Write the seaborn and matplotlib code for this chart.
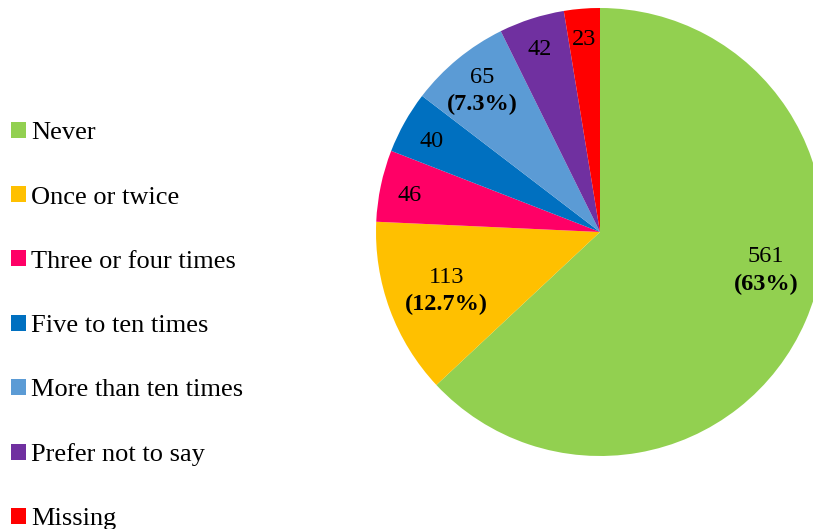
import numpy as np
import matplotlib
matplotlib.use("Agg")
import matplotlib.pyplot as plt
from matplotlib.patches import Patch
import seaborn as sns

categories = ["Never", "Once or twice", "Three or four times", "Five to ten times",
              "More than ten times", "Prefer not to say", "Missing"]
counts = [561, 113, 46, 40, 65, 42, 23]
show_pct = [True, True, False, False, True, False, False]
colors = ["#92D050", "#FFC000", "#FF0066", "#0070C0", "#5B9BD5", "#7030A0", "#FF0000"]


def fmt_pct(v):
	s = f"{v:.1f}"
	if s.endswith(".0"):
		s = s[:-2]
	return f"({s}%)"


def main():
	sns.set_theme(style="white")
	plt.rcParams["font.family"] = ["Liberation Serif", "DejaVu Serif"]
	plt.rcParams["text.color"] = "black"
	palette = sns.color_palette(colors)

	fig = plt.figure(figsize=(8.13, 5.29), dpi=100)
	ax = fig.add_axes([376 / 813, 73 / 529, 448 / 813, 448 / 529])
	wedges, _ = ax.pie(counts, colors=palette, startangle=90, counterclock=False,
	                   radius=1.0, wedgeprops={"linewidth": 0})
	ax.set_xlim(-1, 1)
	ax.set_ylim(-1, 1)
	ax.axis("off")

	# label distance from centre, per slice (Excel "best fit" look)
	label_r = [0.75, 0.73, 0.87, 0.86, 0.83, 0.875, 0.88]
	total = sum(counts)
	fs = 17.5
	for i, (w, n, pct) in enumerate(zip(wedges, counts, show_pct)):
		mid = np.deg2rad((w.theta1 + w.theta2) / 2)
		x, y = label_r[i] * np.cos(mid), label_r[i] * np.sin(mid)
		if i == 0:
			x, y = 0.74, -0.16
		if pct:
			ax.text(x, y + 0.062, str(n), ha="center", va="center_baseline", fontsize=fs)
			ax.text(x, y - 0.062, fmt_pct(100 * n / total), ha="center", va="center_baseline",
			        fontsize=fs, fontweight="bold")
		else:
			ax.text(x, y - 0.008, str(n), ha="center", va="center_baseline", fontsize=fs)

	handles = [Patch(facecolor=c, edgecolor="none") for c in palette]
	fig.legend(handles, categories, loc="upper left", bbox_to_anchor=(11 / 813, 1 - 122 / 529),
	           frameon=False, fontsize=19, handlelength=0.55, handleheight=0.55,
	           handletextpad=0.2, labelspacing=1.59, borderpad=0, borderaxespad=0)

	fig.savefig("out.png", dpi=100)
	plt.close(fig)


if __name__ == "__main__":
	main()
